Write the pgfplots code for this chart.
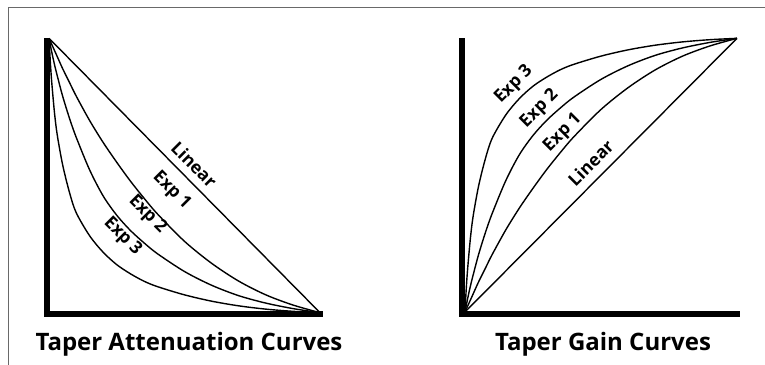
\documentclass[border=0pt]{standalone}
\usepackage{pgfplots}
\pgfplotsset{compat=1.18}
\usepackage{pgfplotstable}
\usepackage{fontspec}
\setmainfont{Open Sans}
\definecolor{framegray}{RGB}{105,105,105}

\pgfplotstableread{
x      e1     e2     e3
0      0      0      0
0.005  0.011  0.025  0.09
0.01   0.022  0.05   0.16
0.02   0.044  0.095  0.27
0.03   0.066  0.135  0.35
0.05   0.11   0.21   0.46
0.075  0.16   0.29   0.56
0.1    0.21   0.36   0.635
0.15   0.30   0.48   0.72
0.2    0.38   0.575  0.78
0.25   0.452  0.645  0.825
0.3    0.52   0.70   0.858
0.35   0.582  0.745  0.885
0.4    0.64   0.785  0.905
0.5    0.74   0.85   0.935
0.6    0.82   0.90   0.958
0.7    0.885  0.938  0.975
0.8    0.935  0.965  0.987
0.9    0.972  0.985  0.995
1      1      1      1
}\gaintable

\pgfplotstableread{
x      a1     a2     a3
0      1      1      1
0.005  0.989  0.975  0.91
0.01   0.978  0.95   0.84
0.02   0.956  0.905  0.73
0.03   0.934  0.865  0.65
0.05   0.89   0.79   0.54
0.075  0.84   0.71   0.44
0.1    0.79   0.64   0.365
0.15   0.70   0.52   0.28
0.2    0.62   0.425  0.22
0.25   0.548  0.355  0.175
0.3    0.48   0.30   0.142
0.35   0.418  0.255  0.115
0.4    0.36   0.215  0.095
0.5    0.26   0.15   0.065
0.6    0.18   0.10   0.042
0.7    0.115  0.062  0.025
0.8    0.065  0.035  0.013
0.9    0.028  0.015  0.005
1      0      0      0
}\attentable

\tikzset{lbl/.style={font=\bfseries\fontsize{17.5}{20}\selectfont, inner sep=0pt}}

\begin{document}
\begin{tikzpicture}[x=1pt,y=1pt]
\useasboundingbox (0,0) rectangle (765,364);
\draw[framegray, line width=1.2pt] (8.7,-10) -- (8.7,356.7) -- (780,356.7);
\pgfplotsset{tapers/.style={
  xmax=1, ymax=1,
  axis lines=left,
  axis line style={-, line width=6pt, line cap=rect},
  y axis line style={shorten >=3pt},
  xtick=\empty, ytick=\empty,
  clip=false,
  every axis plot post/.append style={black, line width=1.4pt, smooth, mark=none},
  anchor=south west,
}}
\begin{axis}[tapers, x=271pt, y=274.4pt, xmin=-0.006, ymin=-0.004, at={(47.4pt,50.2pt)}]
\addplot coordinates {(0,1) (1,0)};
\addplot table[x=x,y=a1]{\attentable};
\addplot table[x=x,y=a2]{\attentable};
\addplot table[x=x,y=a3]{\attentable};
\node[lbl, rotate=-45] at (axis cs:0.536,0.540) {Linear};
\node[lbl, rotate=-45] at (axis cs:0.452,0.444) {Exp 1};
\node[lbl, rotate=-45] at (axis cs:0.363,0.359) {Exp 2};
\node[lbl, rotate=-45] at (axis cs:0.271,0.278) {Exp 3};
\end{axis}
\begin{axis}[tapers, x=272pt, y=273.7pt, xmin=-0.012, ymin=-0.009, at={(461.7pt,49.5pt)}]
\addplot coordinates {(0,0) (1,1)};
\addplot table[x=x,y=e1]{\gaintable};
\addplot table[x=x,y=e2]{\gaintable};
\addplot table[x=x,y=e3]{\gaintable};
\node[lbl, rotate=45] at (axis cs:0.462,0.545) {Linear};
\node[lbl, rotate=45] at (axis cs:0.360,0.654) {Exp 1};
\node[lbl, rotate=45] at (axis cs:0.274,0.742) {Exp 2};
\node[lbl, rotate=45] at (axis cs:0.180,0.830) {Exp 3};
\end{axis}
\node[anchor=base, font=\bfseries\fontsize{24}{28}\selectfont] at (189,14) {Taper Attenuation Curves};
\node[anchor=base, font=\bfseries\fontsize{24}{28}\selectfont] at (603,14) {Taper Gain Curves};
\end{tikzpicture}
\end{document}
